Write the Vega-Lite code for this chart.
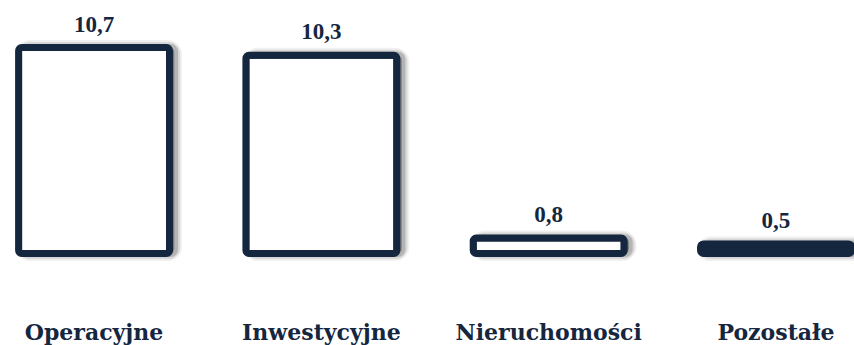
{
  "$schema": "https://vega.github.io/schema/vega-lite/v6.json",
  "width": 854,
  "height": 231,
  "autosize": {"type": "none"},
  "padding": {"left": 0, "top": 22.5, "right": 0, "bottom": 91.5},
  "background": "white",
  "config": {"view": {"stroke": null}},
  "data": {
    "values": [
      {"category": "Operacyjne", "value": 10.7, "label": "10,7"},
      {"category": "Inwestycyjne", "value": 10.3, "label": "10,3"},
      {"category": "Nieruchomości", "value": 0.8, "label": "0,8"},
      {"category": "Pozostałe", "value": 0.5, "label": "0,5"}
    ]
  },
  "encoding": {
    "x": {
      "field": "category",
      "type": "nominal",
      "sort": null,
      "scale": {"paddingInner": 0.336, "paddingOuter": 0.0465, "align": 0.88},
      "axis": {
        "title": null,
        "labelAngle": 0,
        "domain": false,
        "ticks": false,
        "tickSize": 0,
        "labelPadding": 85.5,
        "labelLimit": 0,
        "labelBaseline": "alphabetic",
        "labelFont": "DejaVu Serif",
        "labelFontWeight": "bold",
        "labelFontSize": 22,
        "labelColor": "#15263f"
      }
    },
    "y": {
      "field": "value",
      "type": "quantitative",
      "scale": {"domain": [0, 12], "nice": false},
      "axis": null
    }
  },
  "layer": [
    {"mark": {"type": "bar", "fill": null, "stroke": "#000", "strokeWidth": 15, "strokeOpacity": 0.06, "cornerRadius": 7, "xOffset": 5, "x2Offset": 5, "yOffset": 5, "y2Offset": 5}},
    {"mark": {"type": "bar", "fill": null, "stroke": "#000", "strokeWidth": 11, "strokeOpacity": 0.1, "cornerRadius": 6, "xOffset": 5, "x2Offset": 5, "yOffset": 5, "y2Offset": 5}},
    {"mark": {"type": "bar", "fill": null, "stroke": "#000", "strokeWidth": 7, "strokeOpacity": 0.16, "cornerRadius": 4, "xOffset": 5, "x2Offset": 5, "yOffset": 5, "y2Offset": 5}},
    {
      "mark": {"type": "bar", "stroke": "#15263f", "strokeWidth": 7, "cornerRadius": 3},
      "encoding": {
        "fill": {"condition": {"test": "datum.value < 0.6", "value": "#15263f"}, "value": "white"}
      }
    },
    {
      "mark": {"type": "text", "baseline": "alphabetic", "dy": -16, "font": "Liberation Serif", "fontWeight": "bold", "fontSize": 23, "fill": "#15263f"},
      "encoding": {"text": {"field": "label"}}
    }
  ]
}
